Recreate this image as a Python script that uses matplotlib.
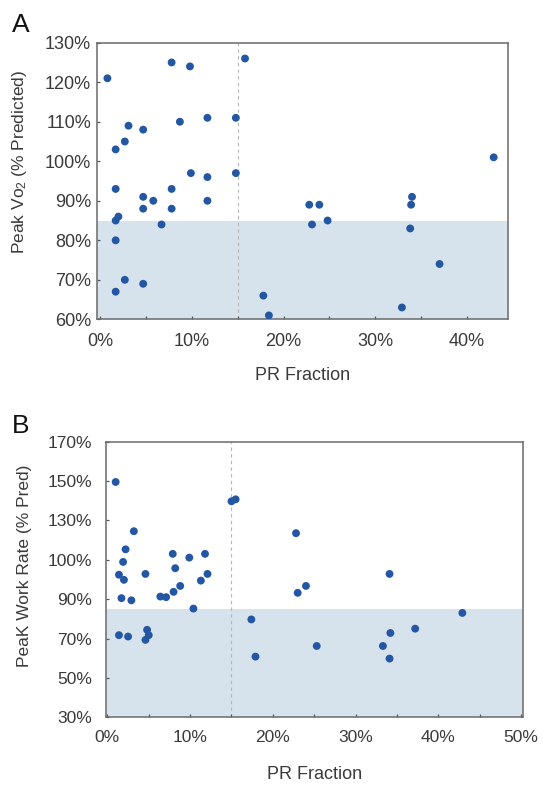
"""
Peak VO2 and peak work rate vs PR fraction, two stacked scatter panels.
"""

import matplotlib

matplotlib.use("Agg")
import matplotlib.pyplot as plt
from matplotlib.ticker import FixedLocator, MultipleLocator

plt.rcParams.update(
    {
        "font.family": ["Liberation Sans", "DejaVu Sans"],
        "mathtext.default": "regular",
    }
)

# panel A: PR fraction (%) vs peak VO2 (% predicted)
pr_a = [0.8, 7.8, 9.8, 15.8, 3.1, 4.7, 8.7, 11.7, 14.8, 2.7, 1.7, 42.9,
        9.9, 11.7, 14.8, 1.7, 7.8, 4.7, 5.8, 11.7, 34.0, 4.7, 7.8, 2.0,
        1.7, 6.7, 1.7, 2.7, 4.7, 1.7, 22.8, 23.9, 23.1, 24.8, 33.9, 33.8,
        37.0, 17.8, 18.4, 32.9]
vo2_a = [121, 125, 124, 126, 109, 108, 110, 111, 111, 105, 103, 101,
         97, 96, 97, 93, 93, 91, 90, 90, 91, 88, 88, 86,
         85, 84, 80, 70, 69, 67, 89, 89, 84, 85, 89, 83,
         74, 66, 61, 63]

# panel B: PR fraction (%) vs peak work rate (axis units)
pr_b = [1.0, 15.0, 15.5, 3.2, 2.2, 1.9, 1.4, 2.0, 4.6, 1.7, 2.9, 7.9,
        8.2, 9.9, 11.8, 12.1, 11.3, 8.8, 8.0, 6.4, 7.1, 10.4, 1.4, 2.5,
        4.8, 5.0, 4.6, 22.8, 17.4, 17.9, 23.0, 24.0, 25.3, 34.1, 34.2,
        33.3, 34.1, 37.2, 42.9]
wr_b = [149.5, 139.7, 140.7, 124.5, 115.3, 108.9, 102.4, 99.8, 102.8, 90.5,
        89.4, 113.0, 105.7, 111.1, 113.0, 102.8, 99.4, 96.7, 93.7, 91.3,
        91.0, 85.2, 71.7, 71.0, 74.4, 71.7, 69.3, 123.5, 79.7, 60.8,
        93.2, 96.7, 66.2, 102.8, 72.8, 66.2, 59.8, 75.0, 83.0]

yticks_a = [60, 70, 80, 90, 100, 110, 120, 130]
xticks_a = [0, 10, 20, 30, 40]
yticks_b = [30, 50, 70, 90, 110, 130, 150, 170]
ylabels_b = ["30%", "50%", "70%", "90%", "100%", "130%", "150%", "170%"]
xticks_b = [0, 10, 20, 30, 40, 50]

cutoff_pr = 15
cutoff_y = 85

DOT = "#2356a3"
SHADE = "#d6e3ec"
TEXT = "#3a3a3a"
SPINE = "#6a6a6a"


def style_axes(ax, ypad, size):
    for s in ax.spines.values():
        s.set_color(SPINE)
        s.set_linewidth(1.1)
    ax.tick_params(which="both", direction="in", length=2.5, width=0.9,
                   color="#555555", labelcolor=TEXT, labelsize=size)
    ax.tick_params(axis="x", pad=9.5)
    ax.tick_params(axis="y", pad=ypad)


def main():
    fig = plt.figure(figsize=(5.43, 7.85), dpi=100)

    # ---- panel A
    ax = fig.add_axes([0.1792, 0.5932, 0.757, 0.3524])
    ax.axhspan(60, cutoff_y, color=SHADE, lw=0, zorder=0)
    ax.axvline(cutoff_pr, color="#b5b5b5", lw=0.8, ls=(0, (3, 3)), zorder=1)
    ax.scatter(pr_a, vo2_a, s=32, color=DOT, edgecolor="none", zorder=3)
    ax.set_xlim(-0.3, 44.5)
    ax.set_ylim(60, 130)
    ax.xaxis.set_major_locator(FixedLocator(xticks_a))
    ax.xaxis.set_minor_locator(MultipleLocator(5))
    ax.set_xticklabels([f"{v}%" for v in xticks_a])
    ax.set_yticks(yticks_a)
    ax.set_yticklabels([f"{v}%" for v in yticks_a])
    style_axes(ax, 4.5, 13)
    ax.set_xlabel("PR Fraction", fontsize=13, color=TEXT)
    ax.xaxis.set_label_coords(0.5, -0.172)
    ax.set_ylabel("Peak Vo$_2$ (% Predicted)", fontsize=12.5, color=TEXT)
    ax.yaxis.set_label_coords(-0.166, 0.569)
    fig.text(0.0215, 0.9596, "A", fontsize=19, color="#111111")

    # ---- panel B
    ax = fig.add_axes([0.1947, 0.0863, 0.768, 0.3511])
    ax.axhspan(30, cutoff_y, color=SHADE, lw=0, zorder=0)
    ax.axvline(cutoff_pr, color="#b5b5b5", lw=0.8, ls=(0, (3, 3)), zorder=1)
    ax.scatter(pr_b, wr_b, s=32, color=DOT, edgecolor="none", zorder=3)
    ax.set_xlim(-0.2, 50.2)
    ax.set_ylim(30, 170)
    ax.xaxis.set_major_locator(FixedLocator(xticks_b))
    ax.xaxis.set_minor_locator(MultipleLocator(5))
    ax.set_xticklabels([f"{v}%" for v in xticks_b])
    ax.set_yticks(yticks_b)
    ax.set_yticklabels(ylabels_b)
    style_axes(ax, 10, 12.5)
    ax.set_xlabel("PR Fraction", fontsize=13, color=TEXT)
    ax.xaxis.set_label_coords(0.5, -0.176)
    ax.set_ylabel("PeaK Work Rate (% Pred)", fontsize=12.5, color=TEXT)
    ax.yaxis.set_label_coords(-0.177, 0.551)
    fig.text(0.0215, 0.448, "B", fontsize=19, color="#111111")

    fig.savefig("out.png", dpi=100)


if __name__ == "__main__":
    main()
